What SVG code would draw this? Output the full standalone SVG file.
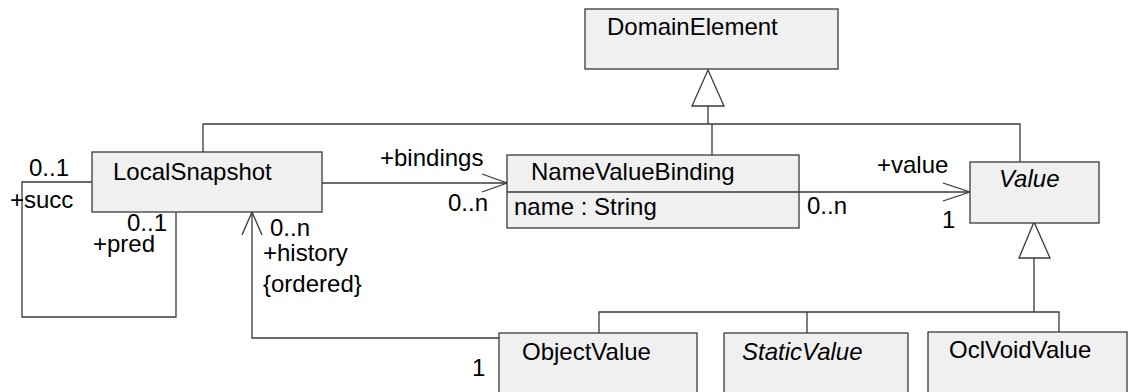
<svg xmlns="http://www.w3.org/2000/svg" width="1129" height="392" viewBox="0 0 1129 392">
<style>
.box{fill:#f0f0f0;stroke:#3a3a3a;stroke-width:1.3}
.ln{fill:none;stroke:#3a3a3a;stroke-width:1.3}
.tri{fill:#ffffff;stroke:#3a3a3a;stroke-width:1.3}
text{font-family:"Liberation Sans",Arial,sans-serif;font-size:24px;fill:#000}
.it{font-style:italic}
</style>
<rect width="1129" height="392" fill="#ffffff"/>
<g id="connectors">
  <polyline class="ln" points="203,152 203,124 1020,124 1020,162"/>
  <line class="ln" x1="708" y1="106" x2="708" y2="124"/>
  <line class="ln" x1="712" y1="124" x2="712" y2="155"/>
  <polygon class="tri" points="708,70 692,106 724,106"/>
  <polyline class="ln" points="599,333 599,312 1059,312 1059,332"/>
  <line class="ln" x1="807" y1="312" x2="807" y2="333"/>
  <line class="ln" x1="1034" y1="258" x2="1034" y2="312"/>
  <polygon class="tri" points="1034,222 1019,258 1050,258"/>
  <polyline class="ln" points="92,182 22,182 22,317 176,317 176,212"/>
  <polyline class="ln" points="252,212 252,338 499,338"/>
  <polyline class="ln" points="242,235 252,212 262,235"/>
  <line class="ln" x1="322" y1="183" x2="507" y2="183"/>
  <polyline class="ln" points="482,174 507,183 482,192"/>
  <line class="ln" x1="799" y1="192" x2="970" y2="192"/>
  <polyline class="ln" points="943,183 970,192 943,201"/>
</g>
<g id="DomainElement">
  <rect class="box" x="585" y="9" width="253" height="60"/>
  <text x="607" y="35">DomainElement</text>
</g>
<g id="LocalSnapshot">
  <rect class="box" x="92" y="152" width="230" height="60"/>
  <text x="113" y="180">LocalSnapshot</text>
</g>
<g id="NameValueBinding">
  <rect class="box" x="507" y="155" width="292" height="73"/>
  <line class="ln" x1="507" y1="192" x2="799" y2="192"/>
  <text x="531" y="180">NameValueBinding</text>
  <text x="514" y="215">name : String</text>
</g>
<g id="Value">
  <rect class="box" x="970" y="162" width="129" height="61"/>
  <text class="it" x="999" y="187">Value</text>
</g>
<g id="ObjectValue">
  <rect class="box" x="499" y="333" width="198" height="70"/>
  <text x="522" y="360">ObjectValue</text>
</g>
<g id="StaticValue">
  <rect class="box" x="724" y="333" width="184" height="70"/>
  <text class="it" x="742" y="360">StaticValue</text>
</g>
<g id="OclVoidValue">
  <rect class="box" x="928" y="332" width="199" height="70"/>
  <text x="949" y="358">OclVoidValue</text>
</g>
<g id="labels">
  <text x="29" y="176">0..1</text>
  <text x="10" y="208">+succ</text>
  <text x="127" y="231">0..1</text>
  <text x="93" y="252">+pred</text>
  <text x="270" y="236">0..n</text>
  <text x="263" y="261">+history</text>
  <text x="263" y="292">{ordered}</text>
  <text x="380" y="166">+bindings</text>
  <text x="448" y="211">0..n</text>
  <text x="877" y="173">+value</text>
  <text x="807" y="214">0..n</text>
  <text x="942" y="228">1</text>
  <text x="472" y="376">1</text>
</g>
</svg>
